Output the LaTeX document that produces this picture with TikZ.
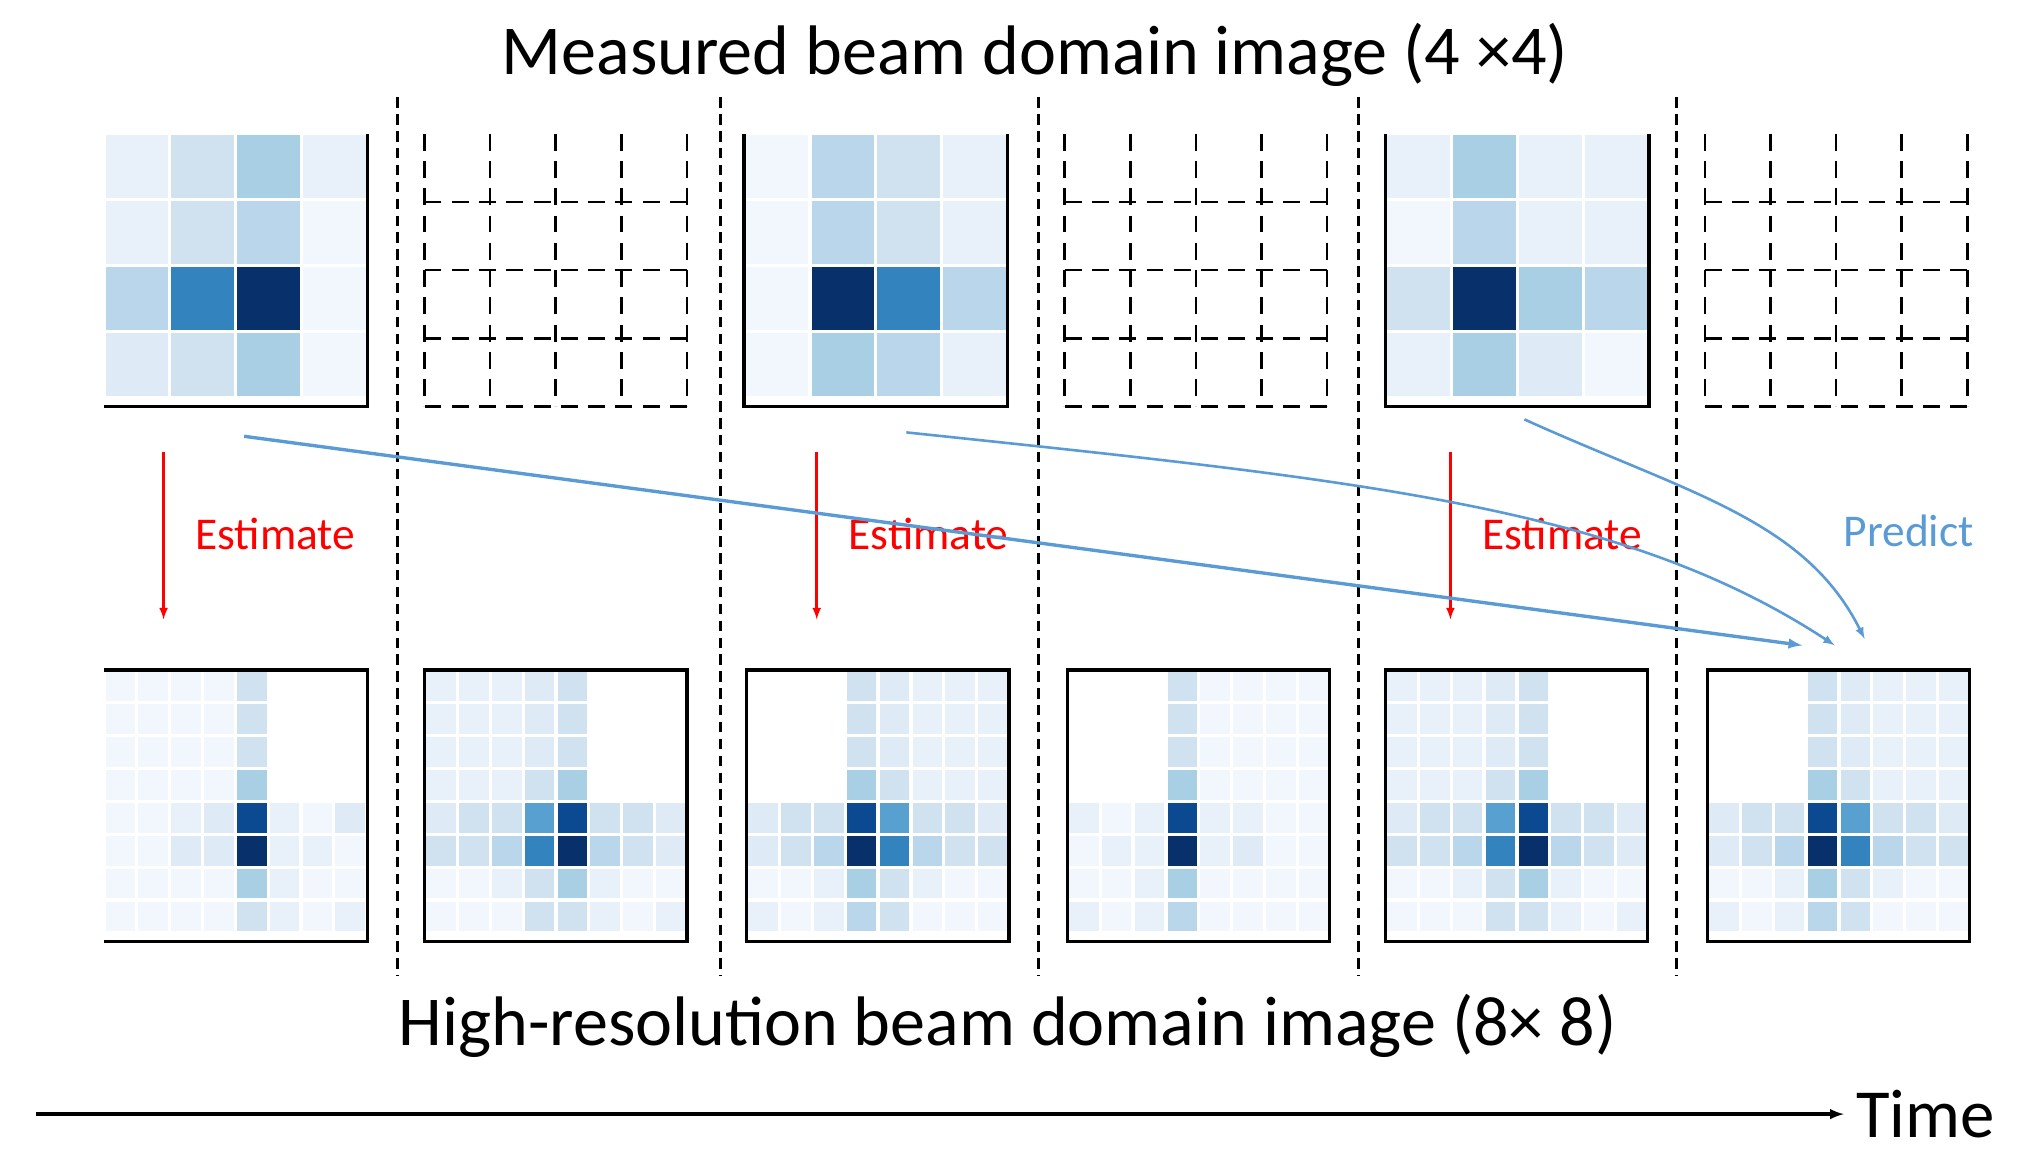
\documentclass[tikz,border=0pt]{standalone}
\usepackage{fontspec}
\setmainfont{Carlito}
\usetikzlibrary{arrows}

\definecolor{bl1}{HTML}{F2F7FE}
\definecolor{bl2}{HTML}{E8F1FA}
\definecolor{bl3}{HTML}{DEEBF7}
\definecolor{bl4}{HTML}{D0E1F0}
\definecolor{bl5}{HTML}{BAD6EA}
\definecolor{bl6}{HTML}{A8CFE4}
\definecolor{bl7}{HTML}{58A0CF}
\definecolor{bl8}{HTML}{3383BE}
\definecolor{bl9}{HTML}{0B4A90}
\definecolor{bl10}{HTML}{08306B}
\definecolor{predblue}{HTML}{5B9BD5}

% colored cells of a grid: x, y, cell size, rows
\newcommand\heatgrid[4]{%
  \foreach \row [count=\r] in {#4} {
    \foreach \v [count=\c] in \row {
      \ifnum\v>0
        \fill[bl\v, draw=white, line width=2.5]
          ({#1+(\c-1)*#3},{#2+(\r-1)*#3}) rectangle ++(#3,#3);
      \fi
    }
  }}

\begin{document}
\begin{tikzpicture}[x=1pt,y=-1pt,
    box/.style={draw=black, line width=2.6},
    sep/.style={draw=black, line width=2, dash pattern=on 8 off 5},
    emptyg/.style={draw=black, line width=2, dash pattern=on 13 off 8},
    estarrow/.style={draw=red, line width=2, arrows={-latex[scale=1.6]}},
    predarrow/.style={draw=predblue, line width=2, arrows={-latex[scale=1.6]}},
    estlabel/.style={text=red, font=\fontsize{35}{39}\selectfont},
    title/.style={font=\fontsize{54}{58}\selectfont}]
  \useasboundingbox (0,0) rectangle (1568,894);

  % titles
  \node[title] (top) at (797,42) {Measured beam domain image (4 ×4)};
  \node[title] (bot) at (776,790) {High-resolution beam domain image (8× 8)};

  % time separators
  \foreach \x in {306,555,800,1046,1291}
    \draw[sep] (\x,75) -- (\x,752);

  % measured 4x4 images
  \heatgrid{80}{103}{50.75}{{2,4,6,2},{2,4,5,1},{5,8,10,1},{3,4,6,1}}
  \heatgrid{573}{103}{50.75}{{1,5,4,2},{1,5,4,2},{1,10,8,5},{1,6,5,2}}
  \heatgrid{1067}{103}{50.75}{{2,6,2,2},{1,5,2,2},{4,10,6,5},{2,6,3,1}}
  \draw[box] (283,103) -- (283,313) -- (80,313);
  \draw[box] (573,103) -- (573,313) -- (776,313) -- (776,103);
  \draw[box] (1067,103) -- (1067,313) -- (1270,313) -- (1270,103);

  % missing measurements
  \foreach \x in {327,820,1313} {
    \foreach \i in {0,...,4}
      \draw[emptyg] ({\x+\i*50.5},103) -- ({\x+\i*50.5},313);
    \foreach \j in {1,...,4}
      \draw[emptyg] (\x,{103+\j*52.5}) -- ({\x+202},{103+\j*52.5});
  }

  % high-resolution 8x8 images
  \heatgrid{80}{516}{25.3}{{1,1,1,1,4,0,0,0},{1,1,1,1,4,0,0,0},{1,1,1,1,4,0,0,0},{1,1,1,1,6,0,0,0},{1,1,2,3,9,2,1,3},{1,1,3,3,10,2,2,1},{1,1,1,1,6,2,1,1},{1,1,1,1,4,2,1,2}}
  \heatgrid{327}{516}{25.3}{{2,2,2,3,4,0,0,0},{2,2,2,3,4,0,0,0},{2,2,2,3,4,0,0,0},{2,2,2,4,6,0,0,0},{3,4,4,7,9,4,4,3},{4,4,5,8,10,5,4,3},{1,1,2,4,6,2,1,1},{1,1,1,4,4,2,1,2}}
  \heatgrid{575}{516}{25.3}{{0,0,0,4,3,2,2,2},{0,0,0,4,3,2,2,2},{0,0,0,4,3,2,2,2},{0,0,0,6,4,2,2,2},{3,4,4,9,7,4,4,3},{3,4,5,10,8,5,4,4},{1,1,2,6,4,2,1,1},{2,1,2,5,4,1,1,1}}
  \heatgrid{822}{516}{25.3}{{0,0,0,4,1,1,1,1},{0,0,0,4,1,1,1,1},{0,0,0,4,1,1,1,1},{0,0,0,6,1,1,1,1},{2,1,2,9,2,2,1,1},{1,2,2,10,2,3,1,1},{1,1,2,6,1,1,1,1},{2,1,2,5,1,1,1,1}}
  \heatgrid{1067}{516}{25.3}{{2,2,2,3,4,0,0,0},{2,2,2,3,4,0,0,0},{2,2,2,3,4,0,0,0},{2,2,2,4,6,0,0,0},{3,4,4,7,9,4,4,3},{4,4,5,8,10,5,4,3},{1,1,2,4,6,2,1,1},{1,1,1,4,4,2,1,2}}
  \heatgrid{1315}{516}{25.3}{{0,0,0,4,3,2,2,2},{0,0,0,4,3,2,2,2},{0,0,0,4,3,2,2,2},{0,0,0,6,4,2,2,2},{3,4,4,9,7,4,4,3},{3,4,5,10,8,5,4,4},{1,1,2,6,4,2,1,1},{2,1,2,5,4,1,1,1}}
  \draw[box] (80,516) -- (283,516) -- (283,725) -- (80,725);
  \foreach \x in {327,575,822,1067,1315}
    \draw[box] (\x,516) rectangle ++(202,209);

  % estimation
  \foreach \x/\n in {126/a,629/b,1117/c} {
    \coordinate (e\n1) at (\x,348);
    \coordinate (e\n2) at (\x,477);
    \draw[estarrow] (e\n1) -- (e\n2);
    \node[estlabel, anchor=west] (l\n) at ({\x+21},411) {Estimate};
  }

  % prediction
  \coordinate (p1) at (188,336);
  \coordinate (p2) at (698,333);
  \coordinate (p3) at (1174,323);
  \coordinate (q1) at (1388,497);
  \coordinate (q2) at (1413,497);
  \coordinate (q3) at (1436,492);
  \draw[predarrow, line width=2.6] (p1) -- (q1);
  \draw[predarrow] (p2) .. controls (1050,370) and (1250,390) .. (q2);
  \draw[predarrow] (p3) .. controls (1300,380) and (1390,400) .. (q3);
  \node[text=predblue, font=\fontsize{35}{39}\selectfont] (pred) at (1470,409) {Predict};

  % time axis
  \coordinate (t0) at (28,858);
  \coordinate (t1) at (1420,858);
  \draw[line width=2.6, arrows={-latex[scale=1.3]}] (t0) -- (t1);
  \node[anchor=west, font=\fontsize{53}{57}\selectfont] (time) at (1426,858) {Time};
\end{tikzpicture}
\end{document}
